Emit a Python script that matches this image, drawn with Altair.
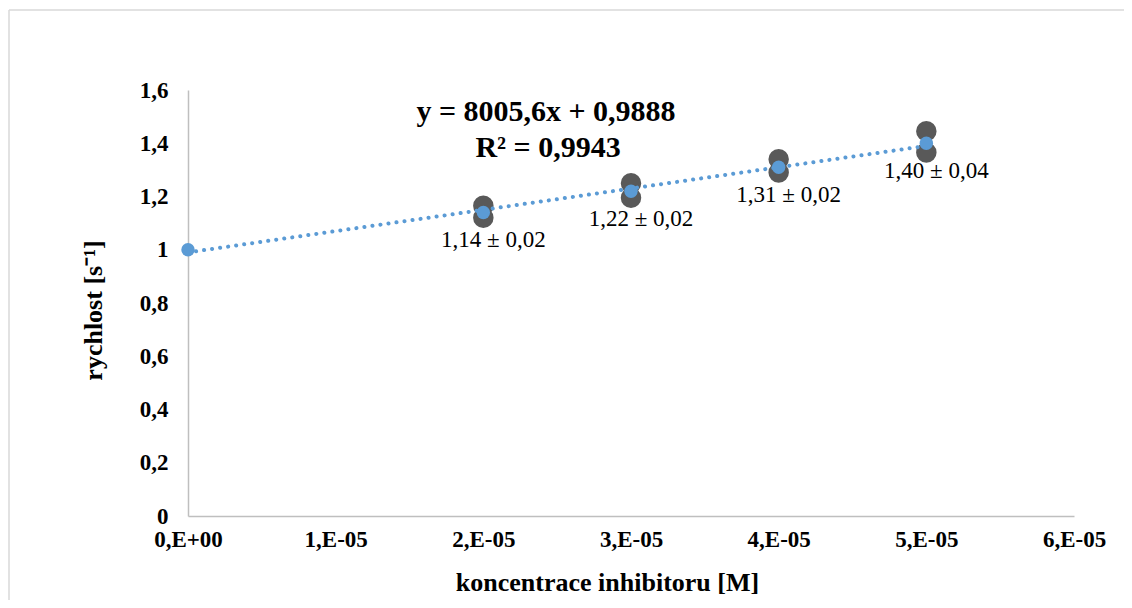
import altair as alt
import pandas as pd

# concentrations [M]
conc_raw = [2e-5, 2e-5, 3e-5, 3e-5, 4e-5, 4e-5, 5e-5, 5e-5]
rate_raw = [1.165, 1.12, 1.25, 1.195, 1.34, 1.29, 1.445, 1.365]

conc_mean = [0.0, 2e-5, 3e-5, 4e-5, 5e-5]
rate_mean = [1.0, 1.14, 1.22, 1.31, 1.40]

label_conc = [2e-5, 3e-5, 4e-5, 5e-5]
label_rate = [1.14, 1.22, 1.31, 1.40]
label_text = ["1,14 ± 0,02", "1,22 ± 0,02", "1,31 ± 0,02", "1,40 ± 0,04"]

x_ticks = [0, 1e-5, 2e-5, 3e-5, 4e-5, 5e-5, 6e-5]
x_tick_labels = ["0,E+00", "1,E-05", "2,E-05", "3,E-05", "4,E-05", "5,E-05", "6,E-05"]
y_ticks = [0, 0.2, 0.4, 0.6, 0.8, 1.0, 1.2, 1.4, 1.6]
y_tick_labels = ["0", "0,2", "0,4", "0,6", "0,8", "1", "1,2", "1,4", "1,6"]

eq_line1 = "y = 8005,6x + 0,9888"
eq_line2 = "R² = 0,9943"

raw_df = pd.DataFrame({"x": conc_raw, "y": rate_raw})
mean_df = pd.DataFrame({"x": conc_mean, "y": rate_mean})
lab_df = pd.DataFrame({"x": label_conc, "y": label_rate, "t": label_text})

FONT = "Liberation Serif"
BLUE = "#5B9BD5"
DARK = "#595959"
AXIS_GRAY = "#BFBFBF"

x_label_expr = "[" + ",".join(f"'{s}'" for s in x_tick_labels) + "][round(datum.value*1e5)]"
y_label_expr = "[" + ",".join(f"'{s}'" for s in y_tick_labels) + "][round(datum.value*5)]"

xscale = alt.Scale(domain=[0, 6e-5], nice=False, zero=False)
yscale = alt.Scale(domain=[0, 1.6], nice=False)

xaxis = alt.Axis(
    values=x_ticks, labelExpr=x_label_expr, grid=False, ticks=False,
    domainColor=AXIS_GRAY, domainWidth=1.5,
    labelFont=FONT, labelFontSize=23, labelFontWeight="bold", labelColor="#000000",
    labelPadding=12, labelFlush=False,
    title="koncentrace inhibitoru [M]", titleFont=FONT, titleFontSize=26,
    titleFontWeight="bold", titleColor="#000000",
    titleX=419, titleY=74, titleAlign="center", titleBaseline="alphabetic",
)
yaxis = alt.Axis(
    values=y_ticks, labelExpr=y_label_expr, grid=False, ticks=False,
    domainColor=AXIS_GRAY, domainWidth=1.5,
    labelFont=FONT, labelFontSize=23, labelFontWeight="bold", labelColor="#000000",
    labelPadding=20, labelFlush=False,
    title="rychlost [s⁻¹]", titleFont=FONT, titleFontSize=26,
    titleFontWeight="bold", titleColor="#000000",
    titleX=-95, titleY=220, titleAngle=-90, titleAlign="center", titleBaseline="middle",
)

raw_pts = alt.Chart(raw_df).mark_circle(size=420, opacity=1, color=DARK).encode(
    x=alt.X("x:Q", scale=xscale, axis=xaxis),
    y=alt.Y("y:Q", scale=yscale, axis=yaxis),
)

trend = alt.Chart(mean_df).transform_regression("x", "y").mark_line(
    color=BLUE, strokeWidth=4, strokeDash=[0.1, 8], strokeCap="round"
).encode(x=alt.X("x:Q", scale=xscale), y=alt.Y("y:Q", scale=yscale))

mean_pts = alt.Chart(mean_df).mark_circle(size=180, opacity=1, color=BLUE).encode(
    x=alt.X("x:Q", scale=xscale), y=alt.Y("y:Q", scale=yscale)
)

labels = alt.Chart(lab_df).mark_text(
    font=FONT, fontSize=23, color="#000000", dx=10, dy=35, baseline="alphabetic", align="center"
).encode(x=alt.X("x:Q", scale=xscale), y=alt.Y("y:Q", scale=yscale), text="t:N")

eq1 = alt.Chart(alt.Data(values=[{"t": eq_line1}])).mark_text(
    font=FONT, fontSize=30, fontWeight="bold", color="#000000", align="center", baseline="alphabetic"
).encode(x=alt.value(358), y=alt.value(31), text="t:N")
eq2 = alt.Chart(alt.Data(values=[{"t": eq_line2}])).mark_text(
    font=FONT, fontSize=30, fontWeight="bold", color="#000000", align="center", baseline="alphabetic"
).encode(x=alt.value(360), y=alt.value(67), text="t:N")

frame_top = alt.Chart(alt.Data(values=[{"a": 1}])).mark_rule(
    stroke="#D9D9D9", strokeWidth=1.5
).encode(x=alt.value(-179), x2=alt.value(1300), y=alt.value(-80))
frame_left = alt.Chart(alt.Data(values=[{"a": 1}])).mark_rule(
    stroke="#D9D9D9", strokeWidth=1.5
).encode(x=alt.value(-179), y=alt.value(-80), y2=alt.value(900))

chart = alt.layer(frame_top, frame_left, raw_pts, trend, mean_pts, labels, eq1, eq2).properties(
    width=886, height=426,
    padding={"left": 180, "top": 82, "right": 50, "bottom": 84},
    autosize=alt.AutoSizeParams(type="none"),
    background="#FFFFFF",
).configure_view(stroke=None)

chart.save("out.html", embed_options={"renderer": "svg", "actions": False})
